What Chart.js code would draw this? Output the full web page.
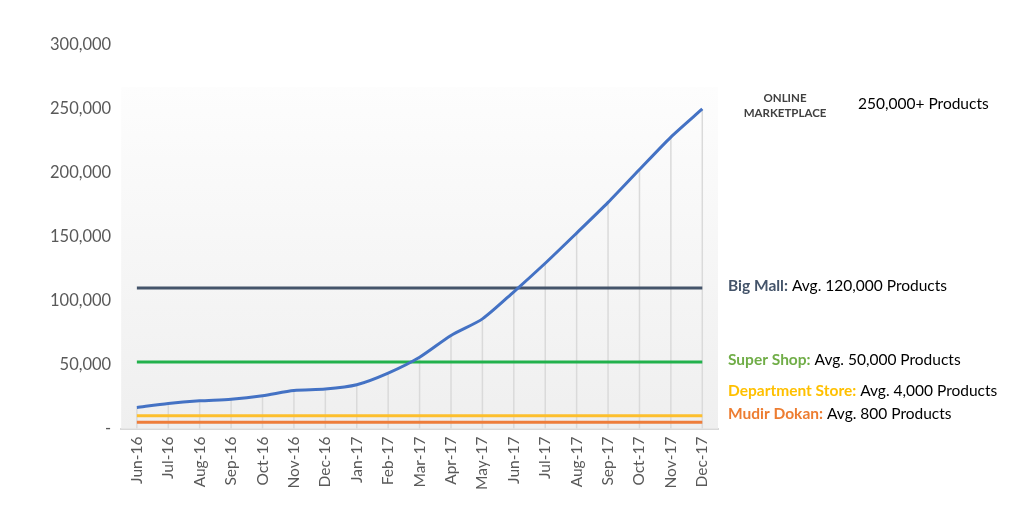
<!DOCTYPE html>
<html>
<head>
<meta charset="utf-8">
<script src="https://cdn.jsdelivr.net/npm/chart.js@4/dist/chart.umd.min.js"></script>
<style>
  html, body { margin: 0; padding: 0; background: #fff; }
  #wrap { width: 1024px; height: 508px; position: relative; }
</style>
</head>
<body>
<div id="wrap"><canvas id="chart"></canvas></div>
<script>
// months along the x axis
const months = ["Jun-16", "Jul-16", "Aug-16", "Sep-16", "Oct-16", "Nov-16", "Dec-16", "Jan-17", "Feb-17",
                "Mar-17", "Apr-17", "May-17", "Jun-17", "Jul-17", "Aug-17", "Sep-17", "Oct-17", "Nov-17", "Dec-17"];

// online marketplace products
const online = [16500, 19600, 21700, 23000, 25700, 29800, 30900, 34300, 43400,
                55800, 72800, 85800, 107000, 129300, 152900, 176900, 202600, 228000, 250000];

// flat reference levels
const bigMall = 110000;
const superShop = 52000;
const deptStore = 10000;
const mudirDokan = 5000;

const yTicks = [0, 50000, 100000, 150000, 200000, 250000, 300000];

// side notes
const notes = [
  { name: "Big Mall:", rest: " Avg. 120,000 Products", color: "#44546a" },
  { name: "Super Shop:", rest: " Avg. 50,000 Products", color: "#70ad47" },
  { name: "Department Store:", rest: " Avg. 4,000 Products", color: "#ffc000" },
  { name: "Mudir Dokan:", rest: " Avg. 800 Products", color: "#ed7d31" }
];

function flat(v) { return months.map(() => v); }

const FONT = "Lato, 'Open Sans', sans-serif";

// soft grey backdrop + drop lines from each point of the blue line
const backPlugin = {
  id: "back",
  beforeDatasetsDraw(chart) {
    const { ctx, chartArea: a, scales } = chart;
    ctx.save();
    const top = scales.y.getPixelForValue(267000);
    const g = ctx.createLinearGradient(0, top, 0, a.bottom);
    g.addColorStop(0, "#fdfdfd");
    g.addColorStop(1, "#efefef");
    ctx.fillStyle = g;
    ctx.fillRect(a.left, top, a.right - a.left, a.bottom - top);

    const meta = chart.getDatasetMeta(0);
    ctx.strokeStyle = "#dadada";
    ctx.lineWidth = 1.5;
    meta.data.forEach(p => {
      ctx.beginPath();
      ctx.moveTo(p.x, p.y);
      ctx.lineTo(p.x, a.bottom);
      ctx.stroke();
    });
    ctx.restore();
  }
};

const notePlugin = {
  id: "notes",
  afterDraw(chart) {
    const { ctx, chartArea: a } = chart;
    ctx.save();
    ctx.textBaseline = "middle";

    // online marketplace caption
    ctx.fillStyle = "#404040";
    ctx.font = "bold 11.5px " + FONT;
    ctx.textAlign = "center";
    ctx.fillText("ONLINE", a.right + 67, 98);
    ctx.fillText("MARKETPLACE", a.right + 67, 113);
    ctx.textAlign = "left";
    ctx.fillStyle = "#000";
    ctx.font = "15.5px " + FONT;
    ctx.fillText("250,000+ Products", a.right + 140, 104);

    const ys = [286, 360, 391, 414];
    notes.forEach((n, i) => {
      const x = a.right + 10;
      ctx.font = "bold 15.5px " + FONT;
      ctx.fillStyle = n.color;
      ctx.fillText(n.name, x, ys[i]);
      const w = ctx.measureText(n.name).width;
      ctx.font = "15.5px " + FONT;
      ctx.fillStyle = "#000";
      ctx.fillText(n.rest, x + w, ys[i]);
    });
    ctx.restore();
  }
};

const lineStyle = (color) => ({
  borderColor: color,
  backgroundColor: color,
  borderWidth: 3,
  pointRadius: 0,
  fill: false
});

new Chart(document.getElementById("chart"), {
  type: "line",
  data: {
    labels: months,
    datasets: [
      Object.assign({ label: "Online Marketplace", data: online, tension: 0.25 }, lineStyle("#4472c4")),
      Object.assign({ label: "Big Mall", data: flat(bigMall) }, lineStyle("#44546a")),
      Object.assign({ label: "Super Shop", data: flat(superShop) }, lineStyle("#22b14c")),
      Object.assign({ label: "Department Store", data: flat(deptStore) }, lineStyle("#fdbf2d")),
      Object.assign({ label: "Mudir Dokan", data: flat(mudirDokan) }, lineStyle("#ee7d3a"))
    ]
  },
  options: {
    responsive: true,
    maintainAspectRatio: false,
    animation: false,
    layout: { padding: { left: 40, right: 306, top: 45, bottom: 10 } },
    plugins: { legend: { display: false }, tooltip: { enabled: false } },
    scales: {
      x: {
        offset: true,
        grid: { display: false, drawTicks: false },
        border: { color: "#d9d9d9", width: 2 },
        ticks: {
          color: "#595959",
          font: { family: FONT, size: 15.5 },
          minRotation: 90,
          maxRotation: 90,
          padding: 8
        }
      },
      y: {
        min: 0,
        max: 300000,
        afterBuildTicks(axis) { axis.ticks = yTicks.map(v => ({ value: v })); },
        grid: { display: false, drawTicks: false },
        border: { display: false },
        ticks: {
          color: "#595959",
          font: { family: FONT, size: 16.5 },
          padding: 10,
          callback: v => v === 0 ? "-" : v.toLocaleString("en-US")
        }
      }
    }
  },
  plugins: [backPlugin, notePlugin]
});
</script>
</body>
</html>
